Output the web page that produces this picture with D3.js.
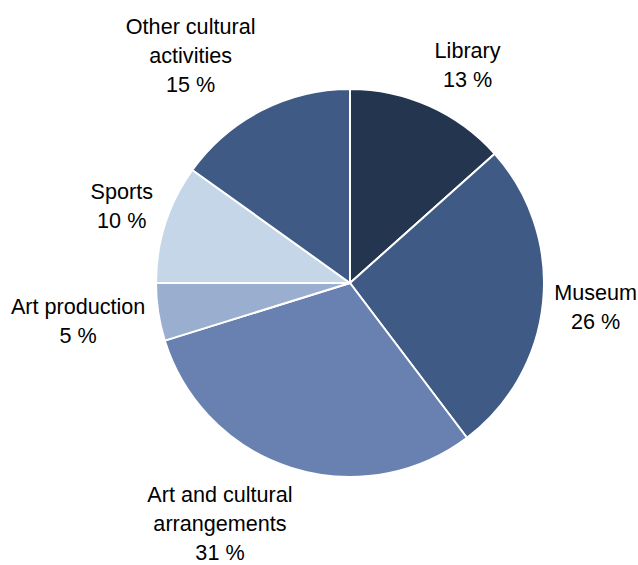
<!DOCTYPE html>
<html><head><meta charset="utf-8">
<script src="https://cdn.jsdelivr.net/npm/d3@7"></script>
<style>html,body{margin:0;padding:0;background:#fff;}</style>
</head><body>
<svg id="chart" width="638" height="565"></svg>
<script>
const categories = ["Library", "Museum", "Art and cultural arrangements", "Art production", "Sports", "Other cultural activities"];
const values = [13.4, 26.3, 30.5, 4.8, 9.9, 15.1];
const labelLines = [["Library"], ["Museum"], ["Art and cultural", "arrangements"], ["Art production"], ["Sports"], ["Other cultural", "activities"]];
const colors = ["#24364f", "#3e5a85", "#6981b0", "#9aaecf", "#c5d6e8", "#3e5a85"];

const W = 638, cx = 350, cy = 283, r = 194;
const svg = d3.select("#chart");
const g = svg.append("g").attr("transform", `translate(${cx},${cy})`);

const data = categories.map((c, i) => ({ cat: c, value: values[i], lines: labelLines[i], color: colors[i] }));
const pie = d3.pie().value(d => d.value).sort(null);
const arc = d3.arc().innerRadius(0).outerRadius(r);
const arcs = pie(data);

g.selectAll("path").data(arcs).join("path")
  .attr("d", arc)
  .attr("fill", d => d.data.color)
  .attr("stroke", "#fff")
  .attr("stroke-width", 2)
  .attr("stroke-linejoin", "round");

const fontSize = 21.6, lh = 29, D = r + 13;
const clamp = v => Math.max(-1, Math.min(1, v));
arcs.forEach(a => {
  const th = (a.startAngle + a.endAngle) / 2;
  const s = Math.sin(th), c = Math.cos(th);
  const px = D * s, py = -D * c;
  const lines = a.data.lines.concat([Math.round(a.data.value) + " %"]);
  const t = g.append("text")
    .attr("font-family", "Arial, 'Liberation Sans', sans-serif")
    .attr("font-size", fontSize)
    .attr("fill", "#000")
    .attr("text-anchor", "middle");
  lines.forEach((l, i) => t.append("tspan").attr("x", 0).attr("y", i * lh).attr("dy", "0.35em").text(l));
  let w = 0;
  t.selectAll("tspan").each(function () { w = Math.max(w, this.getComputedTextLength()); });
  const h = lines.length * lh;
  let bx = px + clamp(s * 3) * w / 2;
  const by = py - clamp(c * 1.5) * h / 2;
  bx = Math.min(bx, W - cx - w / 2 - 1);
  bx = Math.max(bx, -cx + w / 2 + 1);
  t.attr("transform", `translate(${bx},${by - (lines.length - 1) * lh / 2})`);
});
</script>
</body></html>
